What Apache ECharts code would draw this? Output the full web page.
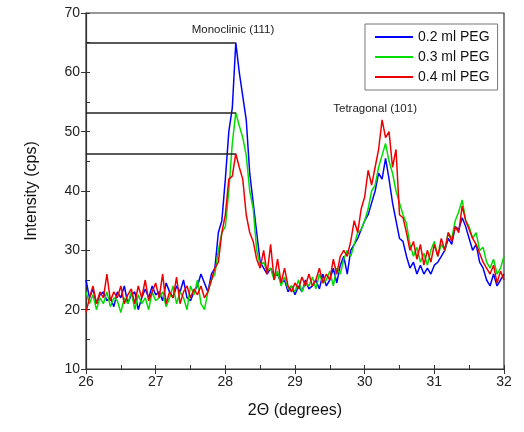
<!DOCTYPE html>
<html><head><meta charset="utf-8">
<script src="https://cdn.jsdelivr.net/npm/echarts@6/dist/echarts.min.js"></script>
<style>html,body{margin:0;padding:0;background:#fff}#c{width:524px;height:432px}</style>
</head><body><div id="c"></div>
<script>
const seriesNames = ['0.2 ml PEG', '0.3 ml PEG', '0.4 ml PEG'];
const scanStart = 26, scanStep = 0.05;
const blue = [
  25, 22, 23.5, 21, 22.5, 23, 21.5, 22, 20.5, 23, 22, 24,
  21, 22.5, 23, 20, 22, 23.5, 22, 24, 22.5, 23, 21.5, 24.5,
  23, 22, 24, 23, 25, 22, 21.5, 23, 24, 26, 24.5, 23,
  26, 27, 33, 35, 42, 50, 54, 65, 60, 56, 52, 43, 38, 33, 28,
  27, 26, 27, 25.5, 26, 24.5, 25, 23, 24, 22.5, 24, 23, 25, 23.5, 24, 25, 23.5, 26, 24, 25,
  27, 24.5, 27.5, 29, 26, 30, 31, 32, 33.5, 35, 36, 38, 40, 43, 42, 45.5, 42, 38, 35, 32,
  31.5, 29, 27, 28, 26, 27.5, 26, 27, 26, 27.5, 28, 29, 30, 32, 31, 34, 33.5, 35.5, 34, 32,
  30, 31, 28, 27, 25, 24, 26, 24, 25, 26
];
const green = [
  23, 21, 22.5, 20, 22, 21, 23, 20.5, 22, 21.5, 19.5, 22,
  21, 23, 20, 22.5, 21, 22, 20, 23, 21.5, 22, 23, 20.5,
  22, 24, 21, 23, 22, 20, 24, 22.5, 25, 21, 20, 23,
  25, 26, 30, 33, 34, 40, 48, 53.2, 51, 49, 46, 40, 37, 30, 27.5,
  28, 26.5, 27, 25, 26.5, 24, 25.5, 23.5, 24, 23, 25, 23, 24.5, 24, 25.5, 23.5, 26, 24.5, 25, 26.5,
  24, 27, 26, 28.5, 30, 29, 31, 33, 33.5, 35, 37, 40, 41, 44, 46, 48, 45, 43, 40, 38,
  36, 34.5, 31, 29, 30.5, 28, 29.5, 27.5, 30, 31.5, 29, 31, 30, 33, 32, 35, 36.5, 38.5, 35, 34,
  32, 33, 30, 30.5, 28, 27, 28.5, 26, 27, 29
];
const red = [
  19.5, 22, 24, 21, 23, 22, 26, 21.5, 23, 22, 24, 21,
  22.5, 23.5, 21, 24, 22, 25, 21.5, 23, 24.5, 22, 26, 21,
  23, 22, 25.5, 21, 23, 24, 22, 23.5, 22.5, 24, 22, 23,
  25, 27, 28, 33, 36, 42, 42.5, 46.3, 44, 42, 36, 33, 31.5, 28.5, 27,
  30, 26, 31, 25, 28.5, 24.5, 27, 24, 23, 24.5, 23.5, 25.5, 24, 26, 24, 25, 27, 24.5, 26, 25,
  28.5, 26, 29, 30, 29, 31.5, 35, 33, 37, 39, 43.5, 41, 44, 47, 52, 49, 50, 44, 47, 36,
  35.5, 33, 30, 31.5, 28.5, 31, 27.5, 30, 28, 31, 29, 32, 30, 33, 31.5, 34, 33, 37.5, 35, 33.5,
  32, 31, 29.5, 28, 27, 26, 27.5, 24.5, 26.5, 25
];
const peakPos = 28.15;
const peakHeights = [65, 53.2, 46.3];
const annotations = [
  { text: 'Monoclinic (111)', at: [28.11, 67.2] },
  { text: 'Tetragonal (101)', at: [30.15, 53.8] }
];
const colors = ['#0000ff', '#00dd00', '#ee0000'];

const twoTheta = blue.map((_, i) => +(scanStart + i * scanStep).toFixed(2));
const pairs = arr => arr.map((v, i) => [twoTheta[i], v]);

const chart = echarts.init(document.getElementById('c'));
const font = 'Liberation Sans, Arial, sans-serif';
const series = [blue, green, red].map((arr, k) => ({
  name: seriesNames[k], type: 'line', data: pairs(arr), symbol: 'none',
  lineStyle: { color: colors[k], width: 1.5 }, itemStyle: { color: colors[k] },
  z: 2 + k, animation: false
}));
series.push({
  name: 'ref', type: 'line', data: [], symbol: 'none', animation: false, z: 10,
  markLine: {
    silent: true, symbol: ['none', 'none'], animation: false,
    lineStyle: { color: '#222', width: 1.5, type: 'solid' }, label: { show: false },
    data: peakHeights.map(h => [{ coord: [scanStart, h] }, { coord: [peakPos, h] }])
  },
  markPoint: {
    symbol: 'circle', symbolSize: 0, animation: false,
    label: { show: true, formatter: '{b}', color: '#222', fontSize: 11.5, fontFamily: font },
    data: annotations.map(a => ({ name: a.text, coord: a.at }))
  }
});

chart.setOption({
  animation: false,
  color: colors,
  grid: { left: 86, right: 20, top: 13, bottom: 63, show: true, borderColor: '#333', borderWidth: 1.2 },
  legend: {
    data: seriesNames, orient: 'vertical', left: 365, top: 24,
    icon: 'rect', itemWidth: 38, itemHeight: 2,
    borderColor: '#777', borderWidth: 1, padding: [6, 8, 6, 10], itemGap: 6,
    textStyle: { fontSize: 14, fontFamily: font, color: '#111' }
  },
  xAxis: [{
    type: 'value', min: 26, max: 32, interval: 1,
    name: '2\u0398 (degrees)', nameLocation: 'middle', nameGap: 34,
    nameTextStyle: { fontSize: 16, fontFamily: font, color: '#111' },
    axisLine: { lineStyle: { color: '#333', width: 1.2 } },
    axisTick: { show: true, length: 5, lineStyle: { color: '#333' } },
    axisLabel: { fontSize: 14, fontFamily: font, color: '#222', margin: 6 },
    splitLine: { show: false }
  }, {
    type: 'value', min: 26, max: 32, interval: 0.5, position: 'bottom', gridIndex: 0,
    axisLine: { show: false }, axisLabel: { show: false }, splitLine: { show: false },
    axisTick: { show: true, inside: true, length: 4, lineStyle: { color: '#333' } }
  }],
  yAxis: [{
    type: 'value', min: 10, max: 70, interval: 10,
    name: 'Intensity (cps)', nameLocation: 'middle', nameGap: 46,
    nameTextStyle: { fontSize: 16, fontFamily: font, color: '#111' },
    axisLine: { show: true, lineStyle: { color: '#333', width: 1.2 } },
    axisTick: { show: true, length: 5, lineStyle: { color: '#333' } },
    axisLabel: { fontSize: 14, fontFamily: font, color: '#222', margin: 6 },
    splitLine: { show: false }
  }, {
    type: 'value', min: 10, max: 70, interval: 5, position: 'left',
    axisLine: { show: false }, axisLabel: { show: false }, splitLine: { show: false },
    axisTick: { show: true, inside: true, length: 4, lineStyle: { color: '#333' } }
  }],
  series: series
});
</script></body></html>
